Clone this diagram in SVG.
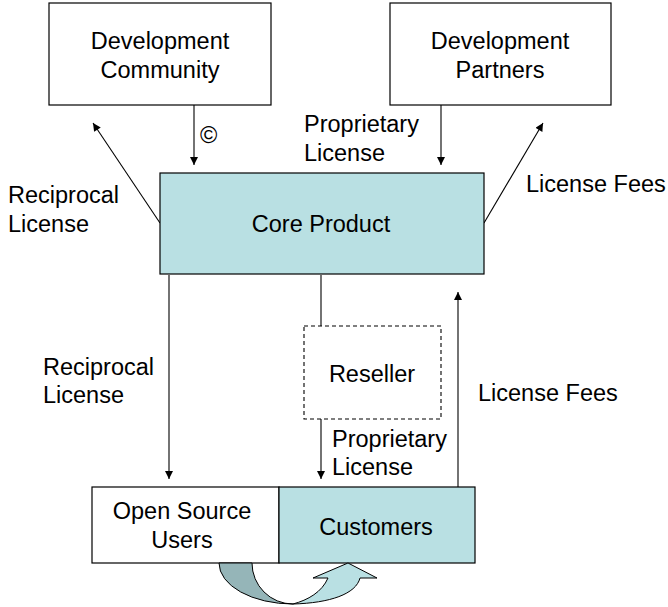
<svg xmlns="http://www.w3.org/2000/svg" width="668" height="607" viewBox="0 0 668 607">
<defs>
<style>
text{font-family:"Liberation Sans",Arial,sans-serif;font-size:23.5px;fill:#000}
.c{text-anchor:middle}
.box{fill:#fff;stroke:#000;stroke-width:1.2}
.teal{fill:#b9e0e3;stroke:#000;stroke-width:1.2}
.ln{stroke:#000;stroke-width:1.1;fill:none}
.ar{stroke:#000;stroke-width:1.1;fill:none;marker-end:url(#ah)}
</style>
<marker id="ah" viewBox="0 0 10 10" refX="10" refY="5" markerWidth="10" markerHeight="8" markerUnits="userSpaceOnUse" orient="auto">
<path d="M0,0 L10,5 L0,10 Z" fill="#000"/>
</marker>
</defs>
<rect width="668" height="607" fill="#fff"/>
<g id="connectors">
<line class="ar" x1="194" y1="105" x2="194" y2="165"/>
<line class="ar" x1="441" y1="105" x2="441" y2="165"/>
<line class="ar" x1="160" y1="223" x2="93" y2="123"/>
<line class="ar" x1="484" y1="223" x2="543" y2="123"/>
<line class="ar" x1="169" y1="275" x2="169" y2="479"/>
<line class="ln" x1="321" y1="275" x2="321" y2="326"/>
<line class="ar" x1="321" y1="419" x2="321" y2="479"/>
<line class="ar" x1="458" y1="487" x2="458" y2="292"/>
<text x="200" y="143" font-size="37">©</text>
<text x="304" y="132">Proprietary</text>
<text x="304" y="161">License</text>
<text x="8" y="203">Reciprocal</text>
<text x="8" y="232">License</text>
<text x="526" y="192">License Fees</text>
<text x="43" y="375">Reciprocal</text>
<text x="43" y="403">License</text>
<text x="478" y="401">License Fees</text>
<text x="332" y="447">Proprietary</text>
<text x="332" y="475">License</text>
</g>
<g id="dev-community">
<rect class="box" x="49" y="3" width="222" height="102"/>
<text class="c" x="160" y="49">Development</text>
<text class="c" x="160" y="78">Community</text>
</g>
<g id="dev-partners">
<rect class="box" x="390" y="3" width="221" height="102"/>
<text class="c" x="500" y="49">Development</text>
<text class="c" x="500" y="78">Partners</text>
</g>
<g id="core-product">
<rect class="teal" x="160" y="173" width="324" height="101"/>
<text class="c" x="321" y="232">Core Product</text>
</g>
<g id="reseller">
<rect x="304" y="326" width="137" height="93" fill="#fff" stroke="#000" stroke-width="1.1" stroke-dasharray="4,3"/>
<text class="c" x="372" y="382">Reseller</text>
</g>
<g id="open-source-users">
<rect class="box" x="92" y="487" width="187" height="76"/>
<text class="c" x="182" y="519">Open Source</text>
<text class="c" x="182" y="548">Users</text>
</g>
<g id="customers">
<rect class="teal" x="279" y="487" width="196" height="76"/>
<text class="c" x="376" y="535">Customers</text>
</g>
<g id="cycle-arrow">
<path d="M219,563 A74,41 0 0 0 293,604 A41,41 0 0 1 252,563 Z" fill="#95b5b8" stroke="#000" stroke-width="1"/>
<path d="M293,604 C330,603 356,594 360,578 L377,578 L348,563 L313,578 L328,578 C322,592 308,600 293,604 Z" fill="#b9e0e3" stroke="#000" stroke-width="1"/>
</g>
</svg>
